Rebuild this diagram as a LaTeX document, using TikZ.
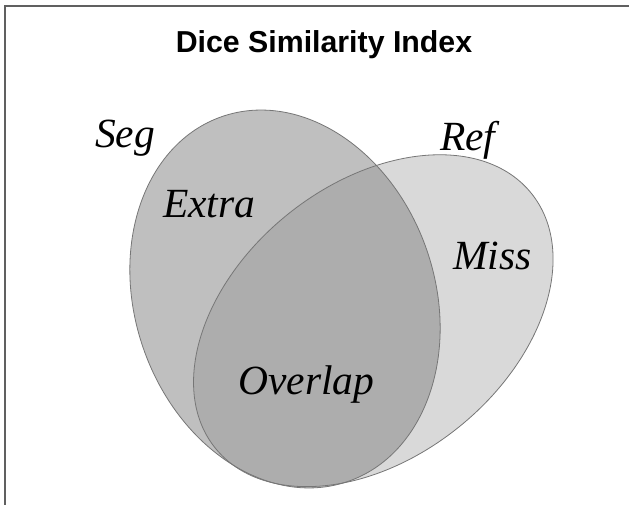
\documentclass[tikz,border=0pt]{standalone}
\usepackage{fontspec}
\setmainfont{Liberation Serif}
\newfontfamily\headfont{Liberation Sans}
\usepackage{tikz}
\usepackage{xcolor}
\usetikzlibrary{positioning}

\definecolor{segonly}{HTML}{BFBFBF}
\definecolor{refonly}{HTML}{D9D9D9}
\definecolor{bothgray}{HTML}{ADADAD}
\definecolor{rimgray}{HTML}{767676}
\definecolor{framegray}{HTML}{606060}

\begin{document}
\begin{tikzpicture}[x=1pt, y=1pt,
        setlabel/.style={anchor=base west, inner sep=0pt, font=\fontsize{41.5}{41.5}\selectfont\itshape},
        rim/.style={draw=rimgray, line width=0.8pt}]
                \useasboundingbox (0, 0) rectangle (629, 505);

                % frame
                \draw[framegray, line width=2pt] (5, 0) -- (5, 499) -- (629, 499);

                % Seg and Ref sets
                \fill[segonly, rotate around={19:(285, 206)}] (285, 206) ellipse [x radius=150pt, y radius=193pt];
                \fill[refonly, rotate around={38.9:(373.3, 184.3)}] (373.3, 184.3) ellipse [x radius=203pt, y radius=136.5pt];
                \begin{scope}
                    \clip[rotate around={19:(285, 206)}] (285, 206) ellipse [x radius=150pt, y radius=193pt];
                    \fill[bothgray, rotate around={38.9:(373.3, 184.3)}] (373.3, 184.3) ellipse [x radius=203pt, y radius=136.5pt];
                \end{scope}
                \draw[rim, rotate around={19:(285, 206)}] (285, 206) ellipse [x radius=150pt, y radius=193pt];
                \draw[rim, rotate around={38.9:(373.3, 184.3)}] (373.3, 184.3) ellipse [x radius=203pt, y radius=136.5pt];

                \node[anchor=base, inner sep=0pt, font=\headfont\bfseries\fontsize{30.3}{30.3}\selectfont] (title) at (324, 452) {Dice Similarity Index};

                \node[setlabel] (seg) at (95, 357) {Seg};
                \node[setlabel] (ref) at (440, 354) {Ref};
                \node[setlabel] (extra) at (163, 287) {Extra};
                \node[setlabel] (miss) at (453, 235) {Miss};
                \node[setlabel] (overlap) at (238, 110) {Overlap};
            \end{tikzpicture}
\end{document}
